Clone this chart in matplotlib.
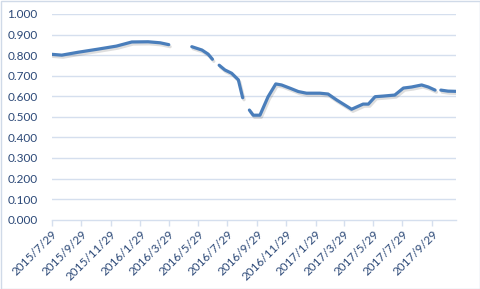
import matplotlib
matplotlib.use("Agg")
import matplotlib.pyplot as plt
import matplotlib.dates as mdates
import matplotlib.patheffects as pe
import numpy as np
import pandas as pd

dates = [
    "2015-07-29", "2015-08-19", "2015-09-22", "2015-11-02", "2015-12-11",
    "2016-01-12", "2016-02-15", "2016-03-11", "2016-03-29",
    "2016-04-22",
    "2016-05-16", "2016-06-06", "2016-06-19", "2016-06-28",
    "2016-07-05",
    "2016-07-12", "2016-07-24", "2016-08-07", "2016-08-21", "2016-08-30",
    "2016-09-06",
    "2016-09-13", "2016-09-21", "2016-10-05", "2016-10-22", "2016-11-07",
    "2016-11-19", "2016-12-07", "2016-12-24", "2017-01-10", "2017-02-07",
    "2017-02-24", "2017-03-14", "2017-04-14", "2017-05-08", "2017-05-19",
    "2017-06-02", "2017-06-19", "2017-07-13", "2017-07-31", "2017-08-17",
    "2017-09-07", "2017-09-21", "2017-10-05",
    "2017-10-11",
    "2017-10-17", "2017-11-01", "2017-11-17",
]
values = [
    0.804, 0.800, 0.814, 0.829, 0.844,
    0.864, 0.865, 0.860, 0.851,
    np.nan,
    0.841, 0.825, 0.805, 0.780,
    np.nan,
    0.751, 0.728, 0.712, 0.680, 0.593,
    np.nan,
    0.533, 0.508, 0.508, 0.598, 0.660,
    0.655, 0.639, 0.623, 0.615, 0.615,
    0.611, 0.582, 0.537, 0.562, 0.562,
    0.598, 0.601, 0.606, 0.640, 0.645,
    0.655, 0.645, 0.630,
    np.nan,
    0.630, 0.625, 0.624,
]
tick_labels = ["2015/7/29", "2015/9/29", "2015/11/29", "2016/1/29", "2016/3/29",
               "2016/5/29", "2016/7/29", "2016/9/29", "2016/11/29", "2017/1/29",
               "2017/3/29", "2017/5/29", "2017/7/29", "2017/9/29"]
y_ticks = [0.0, 0.1, 0.2, 0.3, 0.4, 0.5, 0.6, 0.7, 0.8, 0.9, 1.0]

x = pd.to_datetime(dates)
tick_pos = pd.to_datetime([t.replace("/", "-") for t in tick_labels])

W, H = 481, 289
fig = plt.figure(figsize=(W / 100, H / 100), dpi=100)
fig.patch.set_facecolor("white")
ax = fig.add_axes([51.7 / W, 1 - 219.7 / H, (455.7 - 51.7) / W, (219.7 - 14) / H])

grid_c = "#D5DFEE"
label_c = "#2B4877"
line_c = "#4A7EBB"

ax.plot(x, values, color=line_c, lw=2.3, solid_capstyle="round",
        path_effects=[pe.SimpleLineShadow(offset=(1.0, -1.5), shadow_color="#000000", alpha=0.13),
                      pe.Normal()], zorder=3)

ax.set_ylim(0, 1.0)
ax.set_xlim(pd.Timestamp("2015-07-29"), pd.Timestamp("2017-11-17"))
ax.set_yticks(y_ticks)
ax.set_yticklabels([f"{v:.3f}" for v in y_ticks])
ax.set_xticks(tick_pos)
ax.set_xticklabels(tick_labels, rotation=45, ha="right", rotation_mode="anchor")

for v in y_ticks[1:]:
    ax.axhline(v, color=grid_c, lw=1.0, zorder=1)

for s in ["top", "right", "left"]:
    ax.spines[s].set_visible(False)
ax.spines["bottom"].set_color(grid_c)
ax.spines["bottom"].set_linewidth(1.0)
ax.tick_params(axis="y", length=0, pad=10, labelsize=8.5, labelcolor=label_c)
ax.tick_params(axis="x", length=4, width=1.0, color=grid_c, pad=2, labelsize=8.5, labelcolor=label_c)
for lab in ax.get_xticklabels() + ax.get_yticklabels():
    lab.set_fontfamily(["Lato", "DejaVu Sans"])

border = plt.Rectangle((0.5 / W, 0.5 / H), 1 - 1.5 / W, 1 - 1.5 / H, transform=fig.transFigure,
                       fill=False, edgecolor="#D0DAE8", lw=1.0)
fig.add_artist(border)

fig.savefig("out.png", dpi=100, facecolor="white")
